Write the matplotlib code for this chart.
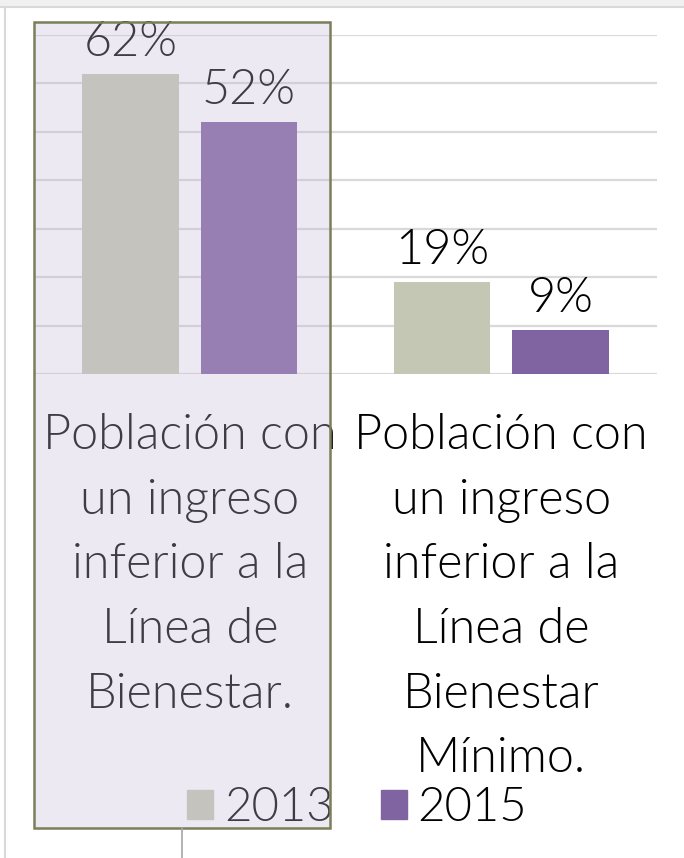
import numpy as np
import matplotlib
matplotlib.use("Agg")
import matplotlib.pyplot as plt
from matplotlib.patches import Rectangle, Patch
from matplotlib.lines import Line2D

categories = ["Población con\nun ingreso\ninferior a la\nLínea de\nBienestar.",
              "Población con\nun ingreso\ninferior a la\nLínea de\nBienestar\nMínimo."]
years = ["2013", "2015"]
values_2013 = [62, 19]
values_2015 = [52, 9]
colors = ["#c4c7b3", "#8064a2"]

plt.rcParams['font.family'] = ['Lato', 'DejaVu Sans']
FS = 34
FW = 300

W, H = 684, 858
fig = plt.figure(figsize=(W / 100, H / 100), dpi=100)

# ejes: base en y=374 px, 70% en y=35 px
ax = fig.add_axes([34 / W, (H - 374) / H, (657 - 34) / W, (374 - 35) / H])
x = np.arange(len(categories))
w = 0.31
off = 0.19
b1 = ax.bar(x - off, values_2013, w, color=colors[0], zorder=2)
b2 = ax.bar(x + off, values_2015, w, color=colors[1], zorder=2)

for bars, vals in ((b1, values_2013), (b2, values_2015)):
    for r, v in zip(bars, vals):
        ax.annotate(f"{v}%", (r.get_x() + r.get_width() / 2, v),
                    xytext=(0, 13), textcoords="offset points",
                    ha="center", va="baseline", fontsize=FS + 1, fontweight=FW)

ax.set_xlim(-0.5, 1.5)
ax.set_ylim(0, 70)
ax.set_yticks(np.arange(0, 71, 10))
ax.yaxis.grid(True, color="#d9d9d9", linewidth=1.6, zorder=0)
ax.set_axisbelow(True)
ax.tick_params(left=False, labelleft=False, bottom=False, labelbottom=False)
for s in ax.spines.values():
    s.set_visible(False)
ax.patch.set_alpha(0)

for xi, lab in zip(x, categories):
    ax.text(xi, -8.1, lab, ha="center", va="top", fontsize=FS + 1, fontweight=FW,
            linespacing=1.545, transform=ax.transData, clip_on=False)

handles = [Patch(color=c) for c in colors]
fig.legend(handles, years, loc="center", bbox_to_anchor=(357 / W, (H - 808) / H),
           ncol=2, frameon=False, handlelength=0.55, handleheight=0.55,
           handletextpad=0.23, columnspacing=1.0, borderaxespad=0,
           prop={"size": FS, "weight": FW})

# marco exterior gris
fig.add_artist(Rectangle((0, (H - 7) / H), 1, 7 / H, transform=fig.transFigure,
                         facecolor="#f0f0f0", edgecolor="none", zorder=0))
fig.add_artist(Line2D([0, 1], [(H - 7) / H] * 2, transform=fig.transFigure,
                      color="#d9d9d9", linewidth=1.5))
fig.add_artist(Line2D([5 / W] * 2, [0, (H - 7) / H], transform=fig.transFigure,
                      color="#d9d9d9", linewidth=1.5))

# selección sobre el primer grupo
sel = (34 / W, (H - 828) / H, (330 - 34) / W, (828 - 22) / H)
fig.add_artist(Rectangle(sel[:2], sel[2], sel[3], transform=fig.transFigure,
                         facecolor=(201 / 255, 187 / 255, 215 / 255), alpha=0.32,
                         edgecolor="none", zorder=10))
fig.add_artist(Rectangle(sel[:2], sel[2], sel[3], transform=fig.transFigure,
                         facecolor="none", edgecolor="#7a7f5a", linewidth=1.8, zorder=11))
fig.add_artist(Line2D([182 / W] * 2, [0, (H - 828) / H], transform=fig.transFigure,
                      color="#a6a6a6", linewidth=1.2, zorder=11))

fig.savefig("out.png", dpi=100)
